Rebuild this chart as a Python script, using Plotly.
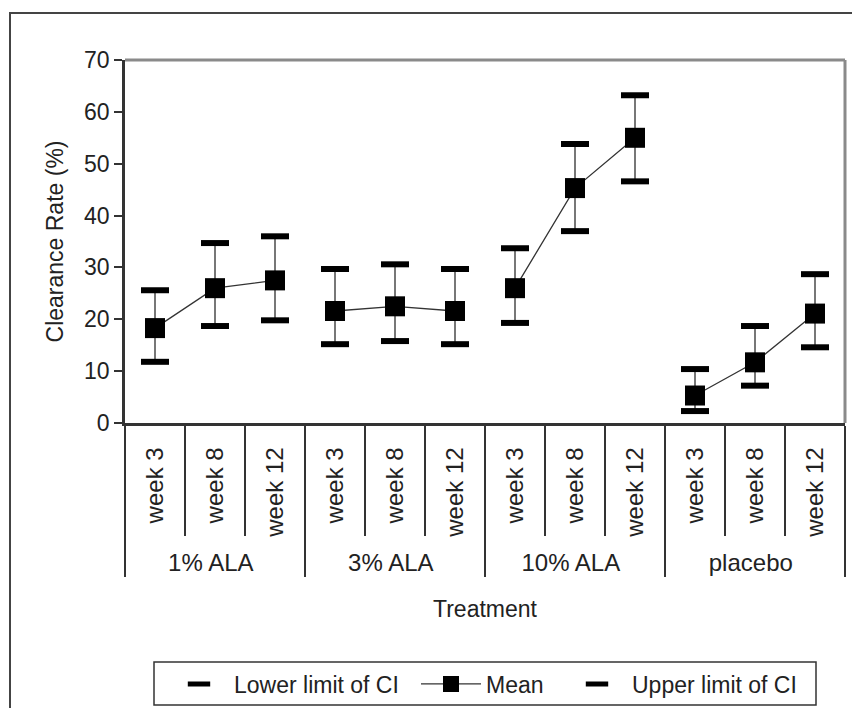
import plotly.graph_objects as go

groups = ["1% ALA", "3% ALA", "10% ALA", "placebo"]
weeks = ["week 3", "week 8", "week 12"]
mean_vals = [18.3, 26.0, 27.5, 21.6, 22.5, 21.6, 26.0, 45.3, 55.0, 5.3, 11.7, 21.1]
lower_vals = [11.8, 18.7, 19.8, 15.2, 15.8, 15.2, 19.3, 37.0, 46.6, 2.3, 7.2, 14.6]
upper_vals = [25.6, 34.7, 36.0, 29.7, 30.6, 29.7, 33.7, 53.8, 63.2, 10.4, 18.7, 28.7]
y_ticks = [0, 10, 20, 30, 40, 50, 60, 70]

grp_col = [g for g in groups for _ in weeks]
wk_col = [w for _ in groups for w in weeks]
x_all = [grp_col, wk_col]
n_cat = len(wk_col)

FONT = "Liberation Sans, Arial, sans-serif"
TXT = "#222222"
FS = 23

fig = go.Figure()

# CI whiskers (thin vertical lines)
fig.add_trace(go.Scatter(
    x=x_all, y=mean_vals, mode="markers",
    marker=dict(size=0.1, color="rgba(0,0,0,0)"),
    error_y=dict(type="data", symmetric=False,
                 array=[u - m for u, m in zip(upper_vals, mean_vals)],
                 arrayminus=[m - l for m, l in zip(mean_vals, lower_vals)],
                 width=0, thickness=1.6, color="#555555"),
    showlegend=False, hoverinfo="skip"))

# Lower limit
fig.add_trace(go.Scatter(
    x=x_all, y=lower_vals, mode="markers", name="Lower limit of CI",
    marker=dict(symbol="line-ew", size=20, line=dict(width=6, color="black"), color="black"),
    legend="legend"))

# Mean (one line per treatment group)
for gi, g in enumerate(groups):
    idx = [i for i, gg in enumerate(grp_col) if gg == g]
    fig.add_trace(go.Scatter(
        x=[[grp_col[i] for i in idx], [wk_col[i] for i in idx]],
        y=[mean_vals[i] for i in idx],
        mode="lines+markers", name="Mean",
        line=dict(color="#333333", width=1.3),
        marker=dict(symbol="square", size=20, color="black"),
        showlegend=(gi == 0), legend="legend2"))

# Upper limit
fig.add_trace(go.Scatter(
    x=x_all, y=upper_vals, mode="markers", name="Upper limit of CI",
    marker=dict(symbol="line-ew", size=20, line=dict(width=6, color="black"), color="black"),
    legend="legend3"))

W, H = 860, 708
OFF = 8  # page body offset in the screenshot
L, R, T, B = 125 - OFF, 23, 60 - OFF, 293
pw, ph = W - L - R, H - T - B

def px(xs):
    return (xs - OFF - L) / pw

def py(ys):
    return (H - B - (ys - OFF)) / ph

leg_common = dict(orientation="h", bgcolor="rgba(0,0,0,0)", borderwidth=0,
                  font=dict(family=FONT, size=FS, color=TXT),
                  xanchor="left", yanchor="middle", y=py(684), itemsizing="trace",
                  itemwidth=60)

fig.update_layout(
    width=W, height=H,
    margin=dict(l=L, r=R, t=T, b=B, autoexpand=False),
    paper_bgcolor="white", plot_bgcolor="white",
    font=dict(family=FONT, size=FS, color=TXT),
    legend=dict(x=px(164), **leg_common),
    legend2=dict(x=px(416), **leg_common),
    legend3=dict(x=px(562), **leg_common),
    xaxis=dict(
        type="multicategory", range=[-0.5, n_cat - 0.5],
        showgrid=False, zeroline=False,
        showline=True, linecolor="#333333", linewidth=2.5,
        ticks="outside", ticklen=110, tickcolor="#333333", tickwidth=1.5,
        ticklabelstandoff=12,
        tickangle=-90, tickfont=dict(family=FONT, size=24, color=TXT),
        showdividers=True, dividercolor="#333333", dividerwidth=1.5,
        title=dict(text="Treatment", font=dict(family=FONT, size=FS, color=TXT), standoff=26),
    ),
    yaxis=dict(
        range=[0, 70], tickvals=y_ticks, showgrid=False, zeroline=False,
        showline=True, linecolor="#333333", linewidth=2.5,
        ticks="outside", ticklen=8, tickcolor="#333333", tickwidth=1.5,
        tickfont=dict(family=FONT, size=FS, color=TXT),
        title=dict(text="Clearance Rate (%)", font=dict(family=FONT, size=FS, color=TXT), standoff=15),
    ),
    shapes=[
        dict(type="line", xref="paper", yref="paper", x0=0, x1=1, y0=1, y1=1,
             line=dict(color="#8a8a8a", width=3)),
        dict(type="line", xref="paper", yref="paper", x0=1, x1=1, y0=0, y1=1,
             line=dict(color="#8a8a8a", width=3)),
        dict(type="rect", xref="paper", yref="paper",
             x0=px(10), x1=px(900), y0=py(740), y1=py(13),
             line=dict(color="#444444", width=2), layer="below"),
        dict(type="rect", xref="paper", yref="paper",
             x0=px(154), x1=px(816), y0=py(705), y1=py(662),
             line=dict(color="#333333", width=1.5)),
    ],
)

fig.write_html("out.html")
